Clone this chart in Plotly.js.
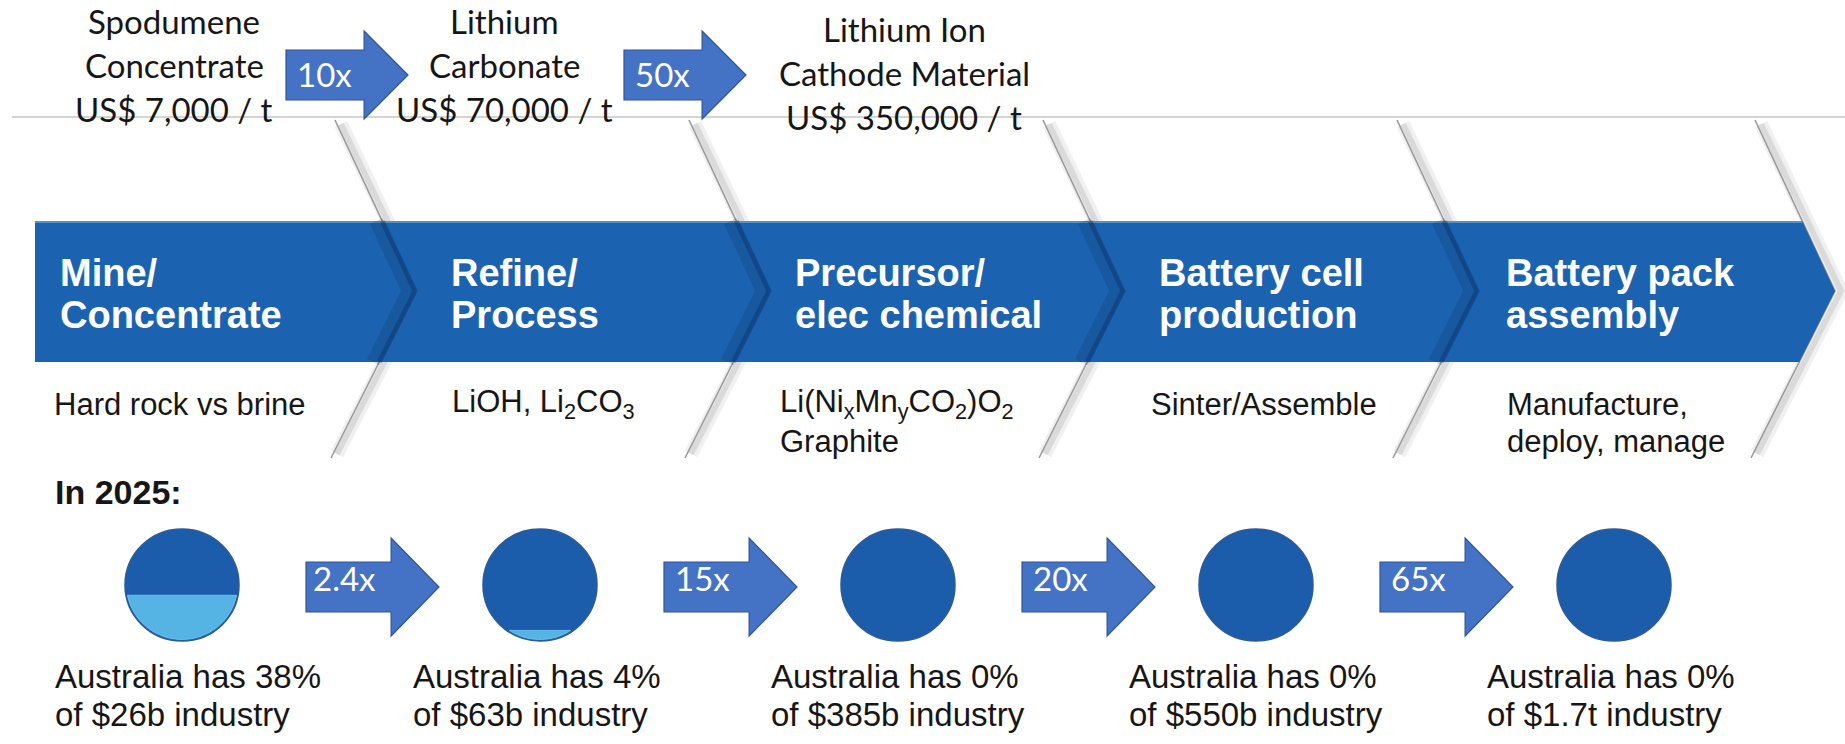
<!DOCTYPE html>
<html><head><meta charset="utf-8">
<script src="https://cdn.plot.ly/plotly-3.0.1.min.js"></script>
<style>html,body{margin:0;padding:0;background:#fff;overflow:hidden}#chart{width:1845px;height:744px}</style>
</head><body><div id="chart"></div>
<script>
// ---------------- DATA ----------------
const products = [["Spodumene","Concentrate"],["Lithium","Carbonate"],["Lithium Ion","Cathode Material"]];
const pricesUSDPerTonne = [7000, 70000, 350000];
const priceMultipliers = ["10x", "50x"];
const stages = [["Mine/","Concentrate"],["Refine/","Process"],["Precursor/","elec chemical"],["Battery cell","production"],["Battery pack","assembly"]];
const stageNotes = [["Hard rock vs brine"],["LiOH, Li<sub>2</sub>CO<sub>3</sub>"],["Li(Ni<sub>x</sub>Mn<sub>y</sub>CO<sub>2</sub>)O<sub>2</sub>","Graphite"],["Sinter/Assemble"],["Manufacture,","deploy, manage"]];
const yearLabel = "In 2025:";
const australiaSharePct = [38, 4, 0, 0, 0];
const industrySize = ["$26b", "$63b", "$385b", "$550b", "$1.7t"];
const industryMultipliers = ["2.4x", "15x", "20x", "65x"];

// ---------------- LAYOUT / STYLE ----------------
const W = 1845, H = 744;
const C = {banner:'#1b63b0', circle:'#1b5dab', circleEdge:'#2b5a96', light:'#55b4e4', arrow:'#4472c4', arrowEdge:'#2f5597', text:'#161616'};
const topFont = 'Lato, "Open Sans", sans-serif';
const arial = '"Liberation Sans", Arial, sans-serif';
const topLabelCX = [174, 504, 904];
const topLabelY0 = [21, 21, 29];
const topLineStep = 44;
const topArrowX = [286, 624];
const stageTitleX = [58, 449, 793, 1157, 1504];
const stageNoteX = [52, 450, 778, 1149, 1505];
const bannerTop = 221, bannerBot = 362, bannerLeft = 35;
const tipX0 = 415, tipStep = 354, tipY = 291, lineTop = 120, lineBot = 458;
const circleCX0 = 182, circleStep = 358, circleCY = 585, rX = 57, rY = 56;

const shapes = [];
const ann = [];

function txt(x, y, text, size, color, family, xanchor, bold) {
  ann.push({x, y, xref:'x', yref:'y', text: bold ? '<b>'+text+'</b>' : text, showarrow:false,
    xanchor: xanchor || 'left', yanchor:'middle', font:{size, color, family}});
}
function arrowPath(x0, cy, w, hh, sh) {
  const xb = x0 + 0.64 * w;
  const p = [[x0, cy - sh/2],[xb, cy - sh/2],[xb, cy - hh/2],[x0 + w, cy],[xb, cy + hh/2],[xb, cy + sh/2],[x0, cy + sh/2]];
  return 'M' + p.map(q => q[0].toFixed(1) + ',' + q[1].toFixed(1)).join(' L') + ' Z';
}

// top grey rule
shapes.push({type:'line', xref:'x', yref:'y', x0:12, x1:W, y0:117, y1:117, line:{color:'#c6c6c6', width:1.5}, layer:'below'});

// chevron divider lines (outside banner)
for (let i = 0; i < stages.length; i++) {
  const tx = (i === stages.length - 1) ? tipX0 + tipStep * i + 4 : tipX0 + tipStep * i;
  const top = [tx - 80, lineTop], bot = [tx - 84, lineBot];
  const pth = `M${top[0]},${top[1]} L${tx},${tipY} L${bot[0]},${bot[1]}`;
  const pthS = `M${top[0]+6},${top[1]+4} L${tx+6},${tipY} L${bot[0]+6},${bot[1]-4}`;
  shapes.push({type:'path', xref:'x', yref:'y', path:pthS, line:{color:'rgba(0,0,0,0.06)', width:14}});
  shapes.push({type:'path', xref:'x', yref:'y', path:pthS, line:{color:'rgba(0,0,0,0.09)', width:6}});
  shapes.push({type:'path', xref:'x', yref:'y', path:pth, line:{color:'#9a9a9a', width:1.6}});
}

// banner
{
  const last = stages.length - 1;
  const tx = tipX0 + tipStep * last + 4;
  const xt = (tx - 80) + (bannerTop - lineTop) / (tipY - lineTop) * 80;
  const xbm = tx - (bannerBot - tipY) / (lineBot - tipY) * 84;
  shapes.push({type:'path', xref:'x', yref:'y',
    path:`M${bannerLeft},${bannerTop} L${xt.toFixed(1)},${bannerTop} L${tx},${tipY} L${xbm.toFixed(1)},${bannerBot} L${bannerLeft},${bannerBot} Z`,
    fillcolor:C.banner, line:{width:0}});
  shapes.push({type:'line', xref:'x', yref:'y', x0:bannerLeft, x1:xt, y0:bannerTop+1, y1:bannerTop+1, line:{color:'rgba(160,200,240,0.6)', width:1.5}});
  // inner dividers
  for (let i = 0; i < last; i++) {
    const t = tipX0 + tipStep * i;
    const a = (t - 80) + (bannerTop - lineTop) / (tipY - lineTop) * 80;
    const b = t - (bannerBot - tipY) / (lineBot - tipY) * 84;
    const p = `M${a.toFixed(1)},${bannerTop} L${t},${tipY} L${b.toFixed(1)},${bannerBot}`;
    const pl = `M${(a-6).toFixed(1)},${bannerTop} L${t-6},${tipY} L${(b-6).toFixed(1)},${bannerBot}`;
    shapes.push({type:'path', xref:'x', yref:'y', path:pl, line:{color:'rgba(5,30,75,0.16)', width:14}});
    shapes.push({type:'path', xref:'x', yref:'y', path:p, line:{color:'rgba(5,30,75,0.28)', width:5}});
  }
}

// top labels & price arrows
products.forEach((lines, i) => {
  const all = lines.concat(['US$ ' + pricesUSDPerTonne[i].toLocaleString('en-US') + ' / t']);
  all.forEach((s, j) => txt(topLabelCX[i], topLabelY0[i] + j * topLineStep, s, 33, C.text, topFont, 'center'));
});
priceMultipliers.forEach((m, i) => {
  shapes.push({type:'path', xref:'x', yref:'y', path:arrowPath(topArrowX[i], 75, 122, 88, 50), fillcolor:C.arrow, line:{color:C.arrowEdge, width:1.2}});
  txt(topArrowX[i] + 38, 74, m, 33, '#ffffff', topFont, 'center');
});

// stage titles & notes
stages.forEach((lines, i) => {
  lines.forEach((s, j) => txt(stageTitleX[i], 273 + j * 42, s, 38, '#ffffff', arial, 'left', true));
  stageNotes[i].forEach((s, j) => txt(stageNoteX[i], (j === 0 ? 404 : 441), s, 31, C.text, arial, 'left'));
});

txt(53, 492, yearLabel, 34, C.text, arial, 'left', true);

// circles: light segment area = Australia's share
function segHeight(f) {
  let lo = 0, hi = 2;
  for (let k = 0; k < 60; k++) {
    const h = (lo + hi) / 2;
    const a = Math.acos(1 - h) - (1 - h) * Math.sqrt(2 * h - h * h);
    if (a / Math.PI < f) lo = h; else hi = h;
  }
  return (lo + hi) / 2;
}
australiaSharePct.forEach((pct, i) => {
  const cx = circleCX0 + circleStep * i;
  shapes.push({type:'circle', xref:'x', yref:'y', x0:cx - rX, x1:cx + rX, y0:circleCY - rY, y1:circleCY + rY, fillcolor:C.circle, line:{color:C.circleEdge, width:1.5}});
  if (pct > 0) {
    const h = segHeight(pct / 100);
    const s0 = Math.asin(1 - h);
    const pts = [];
    for (let k = 0; k <= 48; k++) {
      const th = s0 + (Math.PI - 2 * s0) * k / 48;
      pts.push([cx + (rX - 1.5) * Math.cos(th), circleCY + (rY - 1.5) * Math.sin(th)]);
    }
    shapes.push({type:'path', xref:'x', yref:'y', path:'M' + pts.map(q => q[0].toFixed(1) + ',' + q[1].toFixed(1)).join(' L') + ' Z', fillcolor:C.light, line:{color:'rgba(120,200,240,0.8)', width:1}});
  }
  txt(cx - 129, 676, 'Australia has ' + pct + '%', 33, C.text, arial, 'left');
  txt(cx - 129, 714, 'of ' + industrySize[i] + ' industry', 33, C.text, arial, 'left');
});
industryMultipliers.forEach((m, i) => {
  const x0 = circleCX0 + circleStep * i + 124;
  shapes.push({type:'path', xref:'x', yref:'y', path:arrowPath(x0, circleCY + 2, 133, 98, 50), fillcolor:C.arrow, line:{color:C.arrowEdge, width:1.2}});
  txt(x0 + 38, circleCY - 7, m, 33, '#ffffff', topFont, 'center');
});

const layout = {
  width:W, height:H, margin:{l:0, r:0, t:0, b:0}, paper_bgcolor:'#ffffff', plot_bgcolor:'#ffffff',
  xaxis:{range:[0, W], visible:false, fixedrange:true},
  yaxis:{range:[H, 0], visible:false, fixedrange:true},
  showlegend:false, shapes, annotations:ann
};
Plotly.newPlot('chart', [{x:[0], y:[0], mode:'markers', marker:{opacity:0}, hoverinfo:'skip', showlegend:false}], layout, {displayModeBar:false, staticPlot:true});
</script></body></html>
